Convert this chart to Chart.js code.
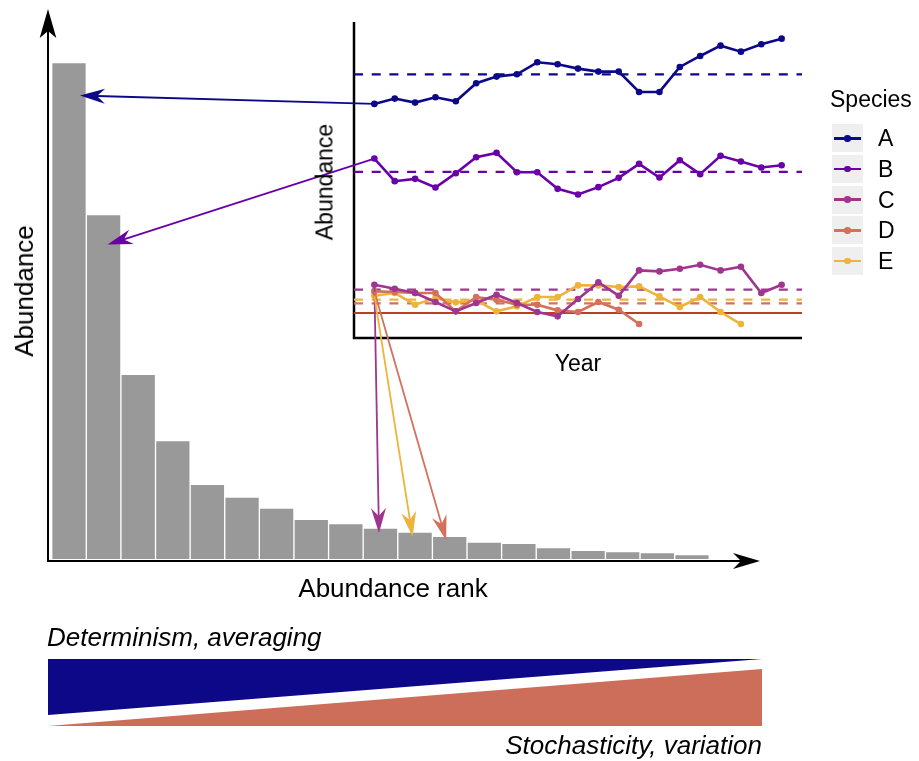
<!DOCTYPE html>
<html>
<head>
<meta charset="utf-8">
<script src="https://cdn.jsdelivr.net/npm/chart.js@4"></script>
<style>
body { margin: 0; background: #fff; }
#wrap { position: relative; width: 919px; height: 761px; overflow: hidden; font-family: 'Liberation Sans', Arial, Helvetica, sans-serif; color: #000; }
#wrap canvas { position: absolute; left: 0; top: 0; }
.lbl { position: absolute; line-height: 1; white-space: nowrap; }
.mid { transform: translate(-50%, -50%); }
.rot { transform: translate(-50%, -50%) rotate(-90deg); }
.key { position: absolute; left: 0; width: 31px; height: 28px; background: #efefef; }
.key .ln { position: absolute; left: 2px; width: 27px; top: 12.7px; height: 2.6px; }
.key .dot { position: absolute; left: 12.2px; top: 10.7px; width: 6.6px; height: 6.6px; border-radius: 50%; }
.keytxt { position: absolute; left: 46px; font-size: 23px; line-height: 1; transform: translateY(-50%); }
</style>
</head>
<body>
<div id="wrap">
  <canvas id="main" width="919" height="761"></canvas>
  <canvas id="inset" width="919" height="761"></canvas>

  <div class="lbl rot" style="left:24px; top:291px; font-size:26px;">Abundance</div>
  <div class="lbl mid" style="left:393px; top:588px; font-size:26px;">Abundance rank</div>
  <div class="lbl rot" style="left:325px; top:182px; font-size:23px;">Abundance</div>
  <div class="lbl mid" style="left:578px; top:363px; font-size:23px;">Year</div>
  <div class="lbl" style="left:830px; top:99px; font-size:23px; transform: translateY(-50%);">Species</div>
  <div id="legend" style="position:absolute; left:832px; top:124.3px;"></div>

  <div class="lbl" style="left:47px; top:637px; font-size:26px; font-style:italic; transform: translateY(-50%);">Determinism, averaging</div>
  <div class="lbl" style="right:157px; top:745px; font-size:26px; font-style:italic; transform: translateY(-50%);">Stochasticity, variation</div>
</div>

<script>
// rank-abundance bars
const rankLabels = [1, 2, 3, 4, 5, 6, 7, 8, 9, 10, 11, 12, 13, 14, 15, 16, 17, 18, 19];
const rankAbundance = [496.5, 344.4, 184.7, 118.3, 74.7, 61.9, 50.8, 39.7, 35.5, 31, 27, 22.7, 17, 15.7, 11.3, 8.7, 7.3, 6.3, 4.3];

// inset time series
const years = [1, 2, 3, 4, 5, 6, 7, 8, 9, 10, 11, 12, 13, 14, 15, 16, 17, 18, 19, 20, 21];
const speciesNames = ['A', 'B', 'C', 'D', 'E'];
const speciesColors = ['#0d0887', '#6a00a8', '#a0358f', '#d4705c', '#edb33b'];
const abundA = [70.3, 71.9, 70.7, 72.3, 71.1, 76.5, 78.5, 79.2, 82.8, 82.2, 80.9, 80.0, 80.0, 73.9, 73.9, 81.4, 84.7, 87.8, 86.0, 88.2, 89.9];
const abundB = [53.9, 47.1, 47.8, 45.2, 49.5, 54.3, 55.6, 49.8, 49.8, 44.8, 43.1, 45.3, 48.1, 52.3, 48.2, 53.4, 49.2, 54.7, 53.0, 51.2, 51.9];
const abundC = [16.0, 14.8, 13.5, 10.8, 8.0, 10.5, 13.0, 10.5, 7.8, 6.5, 11.7, 16.7, 12.7, 20.3, 20.0, 20.8, 22.0, 20.3, 21.4, 13.5, 16.0];
const abundD = [14.0, 13.8, 13.5, 13.5, 8.0, 12.3, 11.5, 10.0, 10.0, 8.3, 7.8, 10.8, 8.5, 4.2];
const abundE = [12.7, 13.5, 10.0, 12.0, 10.7, 11.3, 8.0, 9.5, 12.3, 12.3, 15.8, 15.8, 15.3, 15.5, 12.5, 9.3, 12.3, 7.8, 4.2];
const meanAbund = [79.2, 49.9, 14.5, 10.4, 11.5];
const threshold = 7.5;
const targetRank = [1, 2, 10, 12, 11];

const series = [abundA, abundB, abundC, abundD, abundE];
// where the arrow tips sit relative to the bar top (px)
const tipOffsets = [[11, 33], [4, 30], [-1.5, 5], [-3.5, 4], [-2.5, 4.7]];

function drawArrow(ctx, x0, y0, x1, y1, color, lw, len, half, notch) {
    const a = Math.atan2(y1 - y0, x1 - x0);
    const c = Math.cos(a), s = Math.sin(a);
    ctx.save();
    ctx.strokeStyle = color;
    ctx.fillStyle = color;
    ctx.lineWidth = lw;
    ctx.beginPath();
    ctx.moveTo(x0, y0);
    ctx.lineTo(x1 - c * notch, y1 - s * notch);
    ctx.stroke();
    ctx.beginPath();
    ctx.moveTo(x1, y1);
    ctx.lineTo(x1 - c * len - s * half, y1 - s * len + c * half);
    ctx.lineTo(x1 - c * notch, y1 - s * notch);
    ctx.lineTo(x1 - c * len + s * half, y1 - s * len - c * half);
    ctx.closePath();
    ctx.fill();
    ctx.restore();
}

const axisArrows = {
    id: 'axisArrows',
    afterDraw(chart) {
        const ctx = chart.ctx;
        const { left, right, top, bottom } = chart.chartArea;
        drawArrow(ctx, left, bottom + 1, left, top, '#000', 2, 29, 8.3, 22);
        drawArrow(ctx, left - 1, bottom, right, bottom, '#000', 2, 27, 8, 19);

        // determinism / stochasticity wedges
        ctx.save();
        ctx.fillStyle = '#0d0887';
        ctx.beginPath();
        ctx.moveTo(left, 659);
        ctx.lineTo(right + 2, 659);
        ctx.lineTo(left, 715);
        ctx.closePath();
        ctx.fill();
        ctx.fillStyle = '#cd6e5b';
        ctx.beginPath();
        ctx.moveTo(left, 726);
        ctx.lineTo(right + 2, 669);
        ctx.lineTo(right + 2, 726);
        ctx.closePath();
        ctx.fill();
        ctx.restore();
    }
};

const mainChart = new Chart(document.getElementById('main'), {
    type: 'bar',
    data: {
        datasets: [{
            data: rankLabels.map((r, i) => ({ x: r, y: rankAbundance[i] })),
            backgroundColor: '#999999',
            borderColor: '#ffffff',
            borderWidth: 1,
            barThickness: 34.6
        }]
    },
    options: {
        responsive: false,
        animation: false,
        events: [],
        layout: { padding: { left: 48, right: 159, top: 9, bottom: 200 } },
        scales: {
            x: { type: 'linear', min: 0.393, max: 20.966, offset: false, display: false },
            y: { min: -2, max: 550, display: false }
        },
        plugins: { legend: { display: false }, tooltip: { enabled: false } }
    },
    plugins: [axisArrows]
});

const insetAxes = {
    id: 'insetAxes',
    beforeDatasetsDraw(chart) {
        const ctx = chart.ctx;
        const { left, right, top, bottom } = chart.chartArea;
        ctx.save();
        ctx.strokeStyle = '#000';
        ctx.lineWidth = 2.5;
        ctx.beginPath();
        ctx.moveTo(left, top - 3);
        ctx.lineTo(left, bottom);
        ctx.lineTo(right, bottom);
        ctx.stroke();
        ctx.restore();
    }
};

const rankArrows = {
    id: 'rankArrows',
    afterDraw(chart) {
        const ctx = chart.ctx;
        const xs = chart.scales.x, ys = chart.scales.y;
        const mx = mainChart.scales.x, my = mainChart.scales.y;
        series.forEach((vals, i) => {
            const r = targetRank[i];
            const x0 = xs.getPixelForValue(years[0]);
            const y0 = ys.getPixelForValue(vals[0]);
            const x1 = mx.getPixelForValue(r) + tipOffsets[i][0];
            const y1 = my.getPixelForValue(rankAbundance[r - 1]) + tipOffsets[i][1];
            drawArrow(ctx, x0, y0, x1, y1, speciesColors[i], 1.8, 25, 7.5, 17);
        });
    }
};

const datasets = [];
series.forEach((vals, i) => {
    datasets.push({
        label: speciesNames[i],
        data: vals.map((v, j) => ({ x: years[j], y: v })),
        borderColor: speciesColors[i],
        backgroundColor: speciesColors[i],
        borderWidth: 2.6,
        pointRadius: 3.3,
        pointBorderWidth: 0
    });
});
meanAbund.forEach((m, i) => {
    datasets.push({
        data: [{ x: 0, y: m }, { x: 22, y: m }],
        borderColor: speciesColors[i],
        borderWidth: 2.2,
        borderDash: [9, 8.7],
        pointRadius: 0
    });
});
datasets.push({
    data: [{ x: 0, y: threshold }, { x: 22, y: threshold }],
    borderColor: '#b8401f',
    borderWidth: 2,
    pointRadius: 0
});

const insetChart = new Chart(document.getElementById('inset'), {
    type: 'line',
    data: { datasets },
    options: {
        responsive: false,
        animation: false,
        events: [],
        layout: { padding: { left: 354, right: 117, top: 25, bottom: 423 } },
        scales: {
            x: { type: 'linear', min: 0, max: 22, display: false },
            y: { min: 0, max: 94, display: false }
        },
        plugins: { legend: { display: false }, tooltip: { enabled: false } }
    },
    plugins: [insetAxes, rankArrows]
});

// legend
const legend = document.getElementById('legend');
speciesNames.forEach((name, i) => {
    const top = i * 30.7;
    const key = document.createElement('div');
    key.className = 'key';
    key.style.top = top + 'px';
    key.innerHTML = `<div class="ln" style="background:${speciesColors[i]}"></div><div class="dot" style="background:${speciesColors[i]}"></div>`;
    legend.appendChild(key);
    const txt = document.createElement('div');
    txt.className = 'keytxt';
    txt.style.top = (top + 14) + 'px';
    txt.textContent = name;
    legend.appendChild(txt);
});
</script>
</body>
</html>
